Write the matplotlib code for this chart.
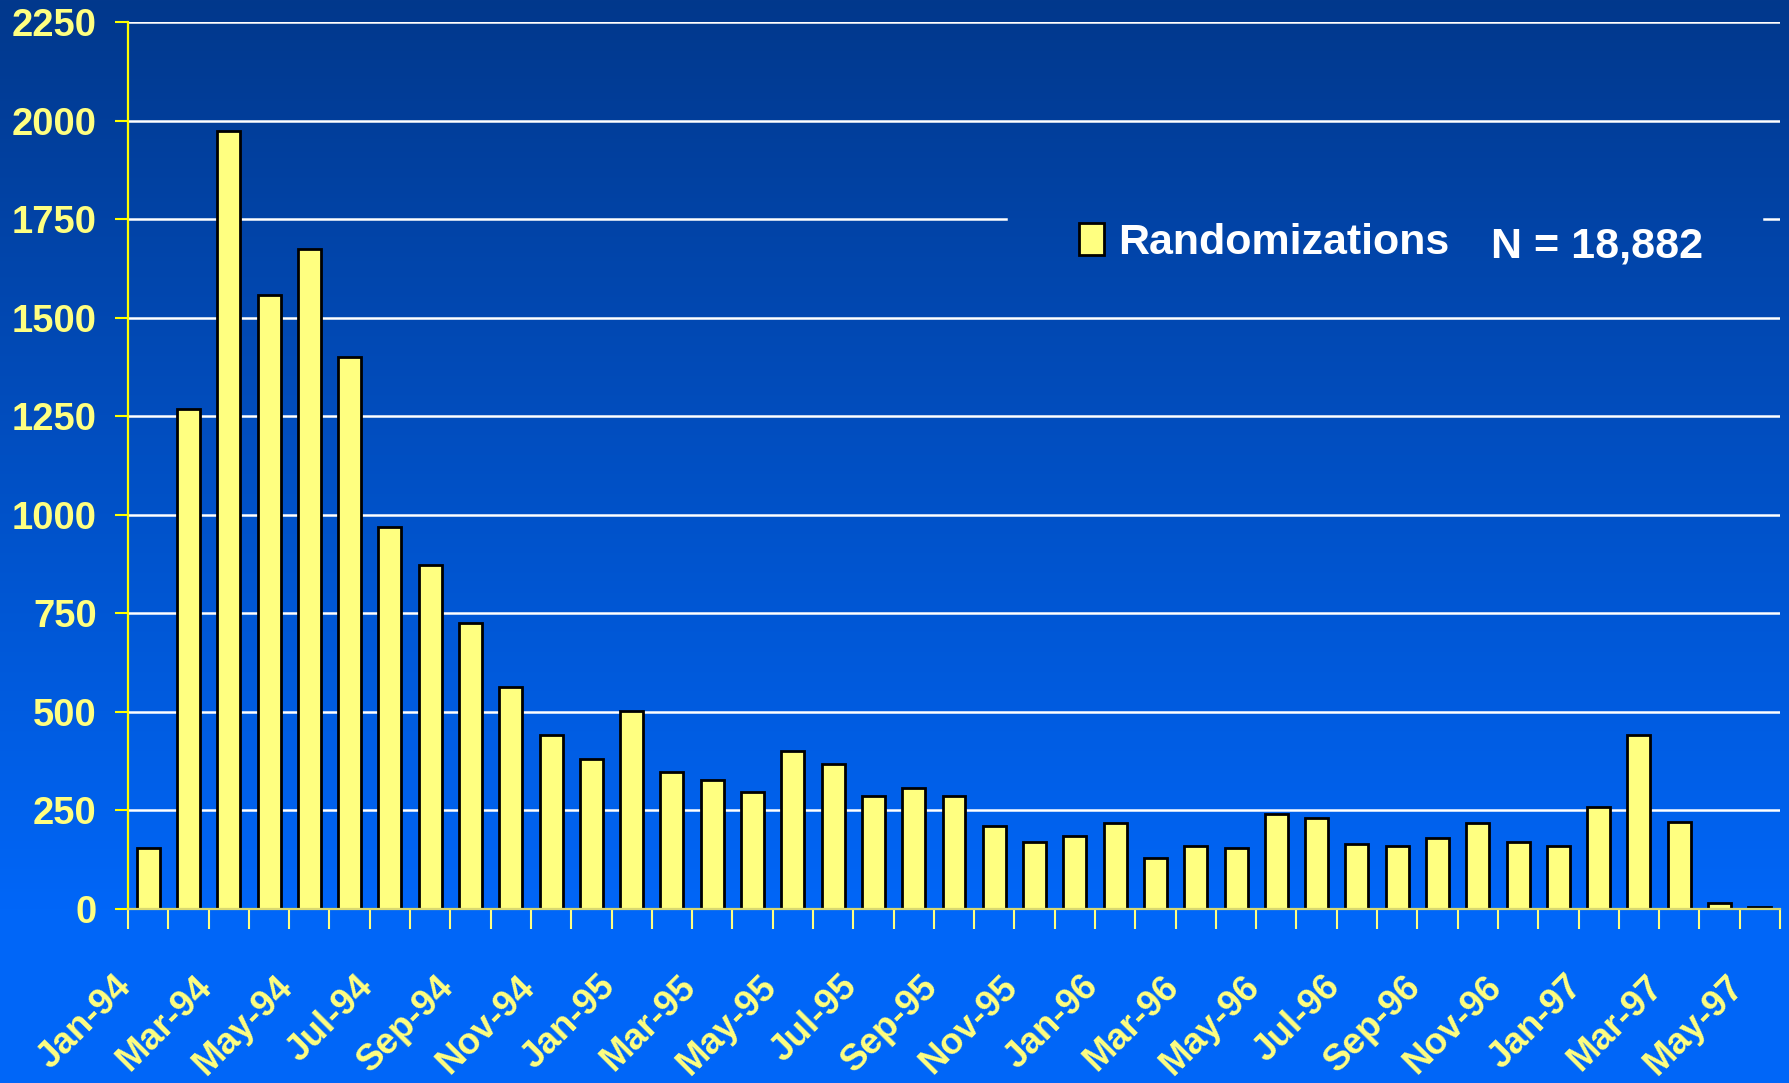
import matplotlib
matplotlib.use("Agg")
import matplotlib.pyplot as plt
import matplotlib.transforms as mtransforms
import numpy as np
from matplotlib.patches import Patch

# Monthly randomizations, Jan-94 through May-97
months = ["Jan", "Feb", "Mar", "Apr", "May", "Jun",
          "Jul", "Aug", "Sep", "Oct", "Nov", "Dec"]
years = ["94", "95", "96", "97"]
categories = [f"{m}-{y}" for y in years for m in months][:41]
randomizations = [156, 1268, 1973, 1557, 1675, 1401, 968, 872, 725, 563, 442, 381,
                  503, 347, 326, 298, 401, 367, 286, 306, 286, 211, 170, 185,
                  217, 130, 159, 156, 240, 231, 165, 159, 179, 217, 170, 159,
                  260, 442, 220, 14, 5]
y_ticks = [0, 250, 500, 750, 1000, 1250, 1500, 1750, 2000, 2250]
legend_label = "Randomizations"
total_label = "N = 18,882"

W, H, DPI = 1790, 1083, 100
BAR = "#ffff80"
PALE = "#ffff80"
YEL = "#ffff00"
FONT = ["Liberation Sans", "DejaVu Sans"]

fig = plt.figure(figsize=(W / DPI, H / DPI), dpi=DPI)

# vertical blue gradient behind everything
bg = fig.add_axes([0, 0, 1, 1], zorder=-10)
bg.set_axis_off()
rows = np.linspace(0, 1, H)
top = np.array([2, 56, 140]) / 255
bot = np.array([0, 102, 248]) / 255
t = np.clip(rows / (909 / H), 0, 1)[:, None]
grad = top * (1 - t) + bot * t
bg.imshow(np.repeat(grad[:, None, :], 4, axis=1), aspect="auto",
          extent=[0, 1, 0, 1], origin="upper")

left, right = 128 / W, 1780 / W
bottom, topy = 1 - 909 / H, 1 - 22 / H
ax = fig.add_axes([left, bottom, right - left, topy - bottom])
ax.set_facecolor("none")

x = np.arange(len(categories))
ax.bar(x, randomizations, width=0.57, color=BAR, edgecolor="black",
       linewidth=2.0, zorder=3)

ax.set_xlim(-0.5, len(categories) - 0.5)
ax.set_ylim(0, 2250)

# white gridlines; the 1750 line is interrupted by the legend
for v in y_ticks[1:]:
    if v == 1750:
        ax.axhline(v, xmin=0, xmax=(1006 - 128) / 1652, color="white", lw=1.8, zorder=1)
        ax.axhline(v, xmin=(1764 - 128) / 1652, xmax=1, color="white", lw=1.8, zorder=1)
    else:
        ax.axhline(v, color="white", lw=1.8, zorder=1)

for s in ["top", "right"]:
    ax.spines[s].set_visible(False)
ax.spines["left"].set_color(YEL)
ax.spines["left"].set_linewidth(1.6)
ax.spines["bottom"].set_color("#d8d870")
ax.spines["bottom"].set_linewidth(1.6)
ax.spines["left"].set_zorder(4)
ax.spines["bottom"].set_zorder(4)

ax.set_yticks(y_ticks)
ax.set_yticklabels([str(v) for v in y_ticks], fontfamily=FONT,
                   fontweight="bold", fontsize=27.5, color=PALE)
ax.tick_params(axis="y", direction="out", length=9.5, width=1.5,
               color=YEL, pad=13)

# tick marks at category boundaries, rotated labels every other month
ax.set_xticks([])
ax.set_xticks(np.arange(-0.5, len(categories)), minor=True)
ax.tick_params(axis="x", which="minor", direction="out", length=14.5,
               width=1.5, color=PALE, labelbottom=False)
label_trans = mtransforms.offset_copy(ax.get_xaxis_transform(), fig=fig,
                                      x=-15, y=-79, units="dots")
for xi, lab in zip(x[::2], categories[::2]):
    ax.text(xi, 0, lab, transform=label_trans, rotation=45,
            rotation_mode="anchor", ha="right", va="baseline",
            fontfamily=FONT, fontweight="bold", fontsize=26.5, color=PALE,
            clip_on=False)

# legend
handle = Patch(facecolor=BAR, edgecolor="black", linewidth=2.0)
leg = ax.legend([handle], [legend_label], loc="center left",
                bbox_to_anchor=(1079 / W, 1 - 243 / H),
                bbox_transform=fig.transFigure, frameon=False,
                prop={"family": FONT, "weight": "bold", "size": 31},
                handlelength=0.58, handleheight=0.78, handletextpad=0.33,
                borderpad=0, borderaxespad=0)
for txt in leg.get_texts():
    txt.set_color("white")
fig.text(1491 / W, 1 - 258 / H, total_label, color="white",
         fontfamily=FONT, fontweight="bold", fontsize=31,
         ha="left", va="baseline")

fig.savefig("out.png", dpi=DPI)
